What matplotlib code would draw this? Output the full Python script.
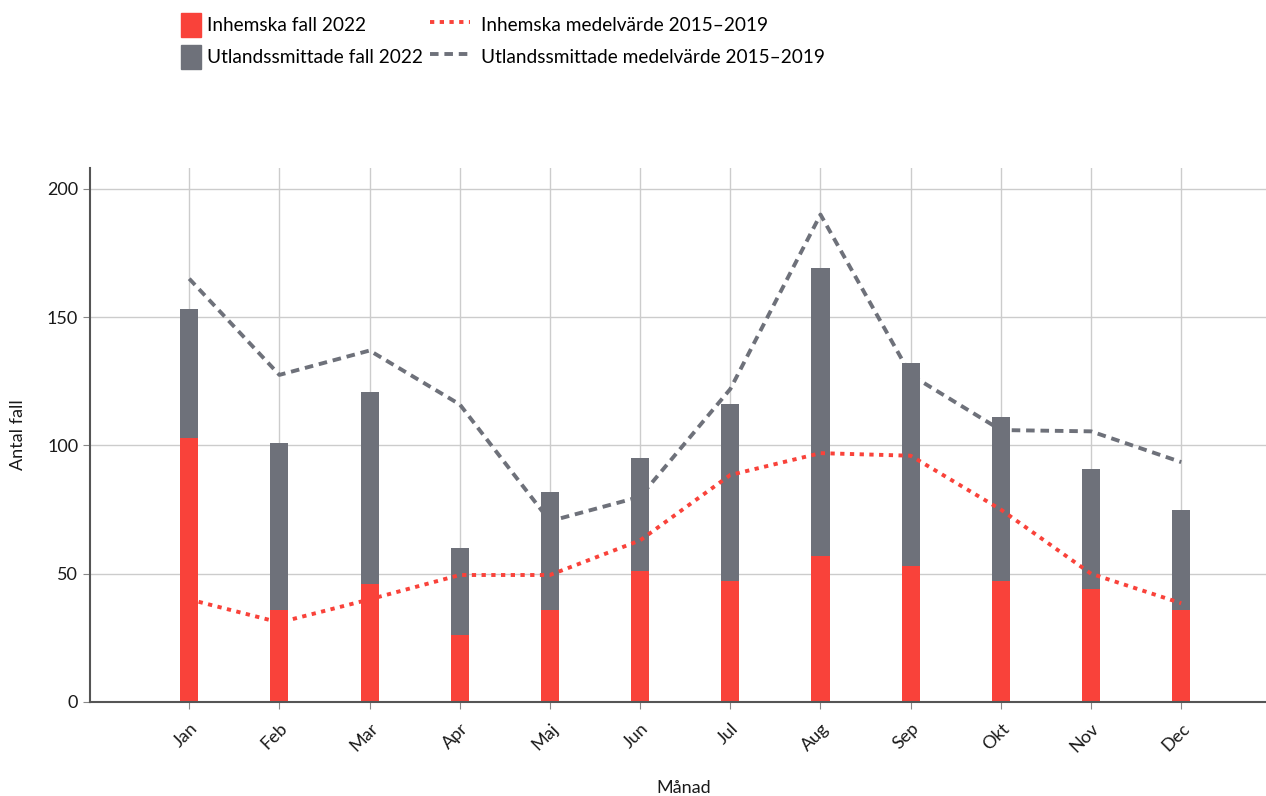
import numpy as np
import matplotlib.pyplot as plt
from matplotlib.patches import Patch
from matplotlib.lines import Line2D

plt.rcParams['font.family'] = ['Lato', 'DejaVu Sans']

months = ["Jan", "Feb", "Mar", "Apr", "Maj", "Jun", "Jul", "Aug", "Sep", "Okt", "Nov", "Dec"]
inhemska_2022 = [103, 36, 46, 26, 36, 51, 47, 57, 53, 47, 44, 36]
totalt_2022 = [153, 101, 121, 60, 82, 95, 116, 169, 132, 111, 91, 75]
utlands_2022 = [t - i for t, i in zip(totalt_2022, inhemska_2022)]
inhemska_medel = [40, 31, 40, 49.5, 49.5, 63, 88.5, 97, 96, 75, 50, 38.5]
utlands_medel = [165, 127.5, 137, 116, 70.5, 80, 122, 190, 127.5, 106, 105.5, 93.5]

red = "#F9423A"
grey = "#6E717A"
dots = (0, (1.1, 1.4))
dashes = (0, (2.2, 1.5))

fig = plt.figure(figsize=(12.66, 7.96), dpi=100)
ax = fig.add_axes([0.0711, 0.1181, 0.9289, 0.671])

x = np.arange(len(months))
width = 0.2
ax.bar(x, inhemska_2022, width, color=red, zorder=2)
ax.bar(x, utlands_2022, width, bottom=inhemska_2022, color=grey, zorder=2)
ax.plot(x, inhemska_medel, color=red, lw=2.8, linestyle=dots, zorder=3)
ax.plot(x, utlands_medel, color=grey, lw=2.8, linestyle=dashes, zorder=3)

ax.set_xlim(-1.1, 11.94)
ax.set_ylim(0, 208.2)
ax.set_yticks([0, 50, 100, 150, 200])
ax.set_xticks(x)
ax.set_xticklabels(months, rotation=45, ha="right", rotation_mode="anchor")
ax.grid(True, color="#cccccc", lw=1, zorder=0)
ax.set_axisbelow(True)
for s in ["top", "right"]:
    ax.spines[s].set_visible(False)
for s in ["left", "bottom"]:
    ax.spines[s].set_color("#555555")
    ax.spines[s].set_linewidth(1.5)
ax.tick_params(axis="both", labelsize=13, colors="#1a1a1a", length=5, color="#888888")
ax.tick_params(axis="x", pad=8)
ax.set_xlabel("Månad", fontsize=13, color="#1a1a1a")
ax.set_ylabel("Antal fall", fontsize=13, color="#1a1a1a")
ax.xaxis.set_label_coords(0.5045, -0.161)
ax.yaxis.set_label_coords(-0.061, 0.5)
ax.xaxis.label.set_va("center")
ax.yaxis.label.set_va("center")

bar_handles = [
    Patch(color=red, label="Inhemska fall 2022"),
    Patch(color=grey, label="Utlandssmittade fall 2022"),
]
line_handles = [
    Line2D([], [], color=red, lw=2.8, linestyle=dots, label="Inhemska medelvärde 2015–2019"),
    Line2D([], [], color=grey, lw=2.8, linestyle=dashes, label="Utlandssmittade medelvärde 2015–2019"),
]
fig.legend(handles=bar_handles, loc="upper left", bbox_to_anchor=(181 / 1266, 1 - 13 / 796),
           frameon=False, fontsize=13.7, handlelength=1.05, handleheight=1.55,
           handletextpad=0.3, labelspacing=0.42, borderpad=0, borderaxespad=0)
fig.legend(handles=line_handles, loc="upper left", bbox_to_anchor=(430 / 1266, 1 - 13 / 796),
           frameon=False, fontsize=13.7, handlelength=2.1, handleheight=1.55,
           handletextpad=0.6, labelspacing=0.42, borderpad=0, borderaxespad=0)

fig.savefig("out.png", dpi=100)
